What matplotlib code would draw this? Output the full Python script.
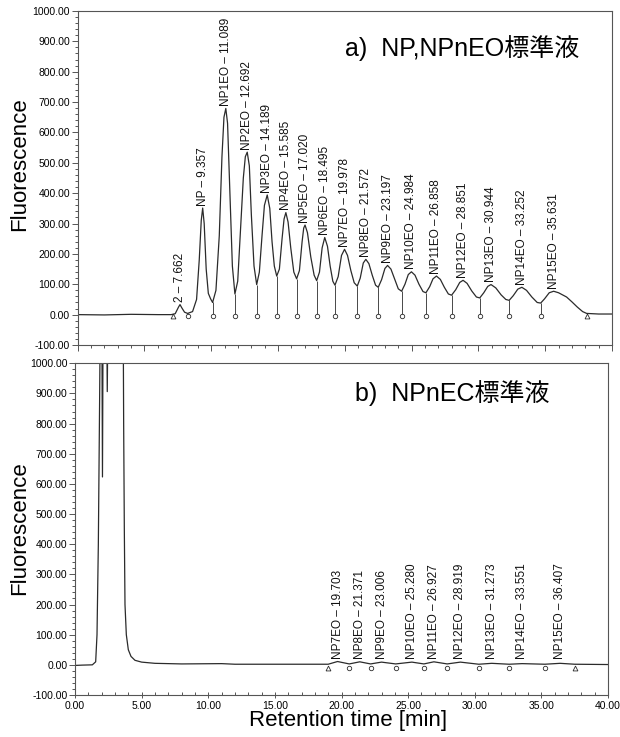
import matplotlib
matplotlib.use("Agg")
import matplotlib.pyplot as plt
from matplotlib.ticker import MultipleLocator, FuncFormatter

plt.rcParams["font.family"] = ["Liberation Sans", "Noto Sans CJK JP"]

# ---- a) NP, NPnEO standard: trace ----
top_t = [0, 2, 4, 6, 7.0, 7.3, 7.55, 7.66, 7.8, 8.0, 8.23,
         8.6, 8.9, 9.1, 9.25, 9.357, 9.47, 9.62, 9.78, 9.95, 10.1,
         10.35, 10.6, 10.8, 10.95, 11.089, 11.22, 11.4, 11.58, 11.77,
         11.98, 12.2, 12.4, 12.55, 12.692, 12.85, 13.0, 13.2, 13.4,
         13.6, 13.8, 13.98, 14.189, 14.38, 14.55, 14.72, 14.9,
         15.1, 15.3, 15.45, 15.585, 15.75, 15.95, 16.18, 16.39,
         16.6, 16.8, 16.92, 17.02, 17.2, 17.45, 17.7, 17.89,
         18.1, 18.3, 18.495, 18.7, 18.9, 19.1, 19.26,
         19.5, 19.75, 19.978, 20.2, 20.45, 20.7, 20.93,
         21.15, 21.38, 21.572, 21.8, 22.05, 22.3, 22.5,
         22.75, 23.0, 23.197, 23.45, 23.75, 24.0, 24.25,
         24.5, 24.75, 24.984, 25.25, 25.55, 25.85, 26.07,
         26.35, 26.6, 26.858, 27.15, 27.45, 27.75, 27.99,
         28.3, 28.6, 28.851, 29.15, 29.5, 29.85, 30.1,
         30.4, 30.7, 30.944, 31.3, 31.7, 32.05, 32.3,
         32.6, 32.95, 33.252, 33.6, 34.0, 34.4, 34.66,
         34.95, 35.3, 35.631, 36.0, 36.6, 37.0, 37.4, 37.8, 38.1, 39.0, 40.0]
top_y = [0, -1, 1, 0, 0, 3, 25, 33, 22, 8, 4,
         10, 50, 180, 310, 351, 300, 150, 70, 52, 40,
         80, 260, 520, 650, 679, 630, 400, 160, 68,
         110, 290, 450, 520, 535, 490, 330, 160, 99,
         140, 260, 360, 394, 350, 240, 160, 127,
         150, 250, 315, 336, 305, 220, 140, 118,
         145, 240, 285, 295, 270, 190, 130, 112,
         140, 220, 254, 225, 160, 110, 97,
         125, 195, 215, 195, 145, 105, 94,
         120, 170, 182, 168, 130, 97, 90,
         115, 152, 162, 150, 115, 85, 77,
         100, 132, 141, 130, 100, 76, 72,
         92, 118, 127, 116, 90, 68, 64,
         82, 106, 113, 103, 78, 58, 55,
         72, 93, 99, 88, 65, 50, 47,
         62, 84, 90, 80, 58, 40, 38,
         52, 72, 77, 72, 58, 42, 25, 10, 4, 2, 2]

top_names = ["2", "NP", "NP1EO", "NP2EO", "NP3EO", "NP4EO", "NP5EO", "NP6EO",
             "NP7EO", "NP8EO", "NP9EO", "NP10EO", "NP11EO", "NP12EO",
             "NP13EO", "NP14EO", "NP15EO"]
top_rt = [7.662, 9.357, 11.089, 12.692, 14.189, 15.585, 17.020, 18.495,
          19.978, 21.572, 23.197, 24.984, 26.858, 28.851, 30.944, 33.252, 35.631]
top_h = [33, 351, 679, 535, 394, 336, 295, 254, 215, 182, 162, 141, 127,
         113, 99, 90, 77]

top_valley_t = [8.23, 10.1, 11.77, 13.4, 14.9, 16.39, 17.89, 19.26, 20.93,
                22.5, 24.25, 26.07, 27.99, 30.1, 32.3, 34.66]
top_valley_y = [4, 40, 68, 99, 127, 118, 112, 97, 94, 90, 77, 72, 64, 55, 47, 38]
top_ends = [7.11, 38.1]

# ---- b) NPnEC standard ----
bot_t = [0, 0.5, 1.3, 1.55, 1.65, 1.75, 1.85, 1.92, 2.0, 2.06, 2.12, 2.35,
         2.42, 2.5, 3.6, 3.65, 3.7, 3.75, 3.85, 4.0, 4.2, 4.5, 5.0, 6.0, 8.0,
         11.0, 12.0, 19.0, 19.7, 20.58, 21.37, 22.18, 23.0, 24.06, 25.28, 26.18,
         26.93, 27.93, 28.92, 30.3, 31.27, 32.58, 33.55, 35.26, 36.4, 37.5, 40.0]
bot_y = [-2, -1, 0, 10, 100, 400, 900, 1300, 1300, 623, 1300, 1300,
         906, 1300, 1300, 800, 450, 200, 100, 50, 28, 15, 9, 5, 3,
         4, 2, 2, 11, 3, 10, 3, 9, 3, 9, 3,
         10, 3, 9, 2, 5, 2, 4, 2, 5, 2, 1]

bot_names = ["NP7EO", "NP8EO", "NP9EO", "NP10EO", "NP11EO", "NP12EO",
             "NP13EO", "NP14EO", "NP15EO"]
bot_rt = [19.703, 21.371, 23.006, 25.280, 26.927, 28.919, 31.273, 33.551, 36.407]
bot_valley_t = [20.58, 22.18, 24.06, 26.18, 27.93, 30.3, 32.58, 35.26]
bot_ends = [19.0, 37.5]

LINE = "#2b2b2b"
SPINE = "#555555"


def style_axes(ax, show_xlabels):
    ax.set_xlim(0, 40)
    ax.set_ylim(-100, 1000)
    ax.yaxis.set_major_locator(MultipleLocator(100))
    ax.yaxis.set_minor_locator(MultipleLocator(20))
    ax.xaxis.set_major_locator(MultipleLocator(5))
    ax.xaxis.set_minor_locator(MultipleLocator(1))
    ax.yaxis.set_major_formatter(FuncFormatter(lambda v, p: f"{v:.2f}"))
    if show_xlabels:
        ax.xaxis.set_major_formatter(FuncFormatter(lambda v, p: f"{v:.2f}"))
        ax.tick_params(axis="x", which="major", direction="inout", length=5)
        ax.tick_params(axis="x", which="minor", direction="in", length=2.5)
    else:
        ax.tick_params(axis="x", labelbottom=False)
        ax.tick_params(axis="x", which="major", direction="out", length=4)
        ax.tick_params(axis="x", which="minor", direction="out", length=2)
    ax.tick_params(axis="y", which="major", direction="out", length=4)
    ax.tick_params(axis="y", which="minor", direction="out", length=2.5)
    ax.tick_params(which="both", width=0.7, color=SPINE, labelsize=7.5, pad=1.5)
    for s in ax.spines.values():
        s.set_color(SPINE)
        s.set_linewidth(0.8)


fig = plt.figure(figsize=(6.2, 7.37), dpi=100)
ax1 = fig.add_axes([0.1253, 0.5319, 0.8618, 0.4532])
ax2 = fig.add_axes([0.1210, 0.0570, 0.8597, 0.4501])

# top panel
ax1.plot(top_t, top_y, color=LINE, lw=0.9)
ax1.vlines(top_valley_t, 0, top_valley_y, color=LINE, lw=0.6)
ax1.plot(top_valley_t, [-3] * len(top_valley_t), "o", ms=3.2, mfc="white",
         mec=LINE, mew=0.6, ls="none")
ax1.plot(top_ends, [-3] * len(top_ends), "^", ms=3.5, mfc="white",
         mec=LINE, mew=0.6, ls="none")
for name, rt, h in zip(top_names, top_rt, top_h):
    ax1.text(rt, h + 8, f"{name} \u2013 {rt:.3f}", rotation=90, ha="center",
             va="bottom", fontsize=8.5, color="#111111")
style_axes(ax1, False)

# bottom panel
ax2.plot(bot_t, bot_y, color=LINE, lw=0.9)
ax2.plot(bot_valley_t, [-10] * len(bot_valley_t), "o", ms=3.2, mfc="white",
         mec=LINE, mew=0.6, ls="none")
ax2.plot(bot_ends, [-10] * len(bot_ends), "^", ms=3.5, mfc="white",
         mec=LINE, mew=0.6, ls="none")
for name, rt in zip(bot_names, bot_rt):
    ax2.text(rt, 20, f"{name} \u2013 {rt:.3f}", rotation=90, ha="center",
             va="bottom", fontsize=8.5, color="#111111")
style_axes(ax2, True)

fig.text(0.556, 0.935, "a)  NP,NPnEO標準液", fontsize=18, va="center", ha="left")
fig.text(0.573, 0.467, "b)  NPnEC標準液", fontsize=18, va="center", ha="left")
fig.text(0.032, 0.7775, "Fluorescence", fontsize=16, rotation=90, ha="center", va="center")
fig.text(0.032, 0.2836, "Fluorescence", fontsize=16, rotation=90, ha="center", va="center")
fig.text(0.561, 0.023, "Retention time [min]", fontsize=16, ha="center", va="center")

fig.savefig("out.png", dpi=100)
